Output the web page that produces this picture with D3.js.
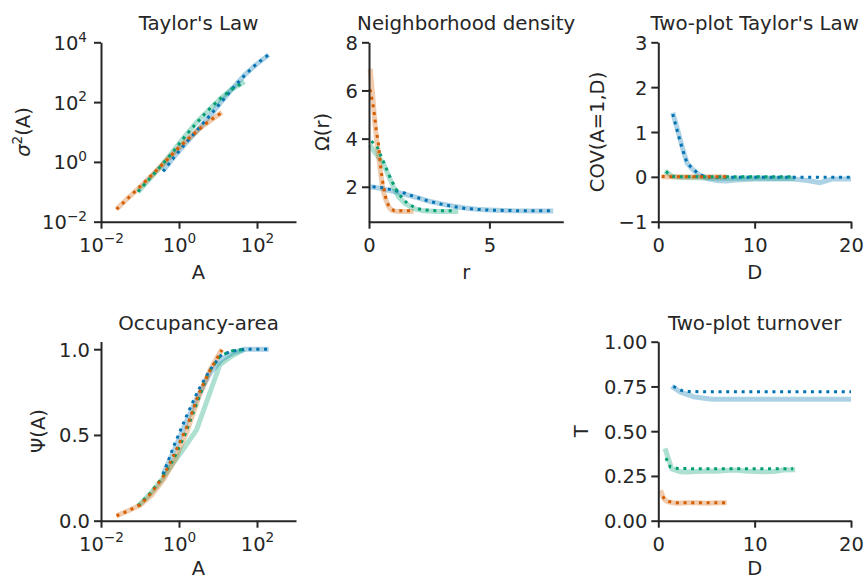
<!DOCTYPE html>
<html>
<head>
<meta charset="utf-8">
<script src="https://cdn.jsdelivr.net/npm/d3@7"></script>
<style>
body { margin: 0; background: #fff; }
text { font-family: "DejaVu Sans", sans-serif; fill: #262626; }
</style>
</head>
<body>
<script>
// ---- data ----
// colours: blue, green, orange series
var blue = '#0173b2', green = '#029e73', orange = '#d55e00';

// Taylor's Law / Occupancy-area share the area grid
var areaBlue   = [0.39, 0.78, 1.56, 3.1, 6.25, 12.5, 25, 50, 100, 200];
var areaGreen  = [0.089, 0.178, 0.355, 0.708, 1.41, 2.82, 5.62, 11.2, 22.4, 47.9];
var areaOrange = [0.025, 0.05, 0.1, 0.2, 0.4, 0.8, 1.6, 3.2, 6.3, 12.6];

var varBlue      = [0.5, 1.6, 4.5, 12, 35, 107, 316, 850, 1900, 3800];
var varBlueFit   = [0.48, 1.55, 4.6, 12.5, 36, 105, 310, 830, 1950, 3900];
var varGreen     = [0.1, 0.27, 0.74, 2.3, 7.2, 21, 52, 125, 270, 480];
var varGreenFit  = [0.1, 0.28, 0.76, 2.2, 7.0, 20, 54, 128, 265, 470];
var varOrange    = [0.026, 0.063, 0.145, 0.35, 0.89, 2.24, 5.5, 12.3, 24, 46];
var varOrangeFit = [0.026, 0.062, 0.15, 0.36, 0.9, 2.3, 5.4, 12, 24.5, 45];

var occBlue      = [0.27, 0.42, 0.58, 0.73, 0.86, 0.94, 0.98, 1.0, 1.0, 1.0];
var occBlueFit   = [0.27, 0.45, 0.61, 0.76, 0.88, 0.97, 0.99, 1.0, 1.0, 1.0];
var occGreen     = [0.086, 0.155, 0.237, 0.335, 0.43, 0.53, 0.72, 0.91, 0.96, 1.0];
var occGreenFit  = [0.086, 0.157, 0.245, 0.355, 0.5, 0.68, 0.86, 0.96, 0.99, 1.0];
var occOrange    = [0.028, 0.058, 0.09, 0.15, 0.24, 0.36, 0.52, 0.72, 0.88, 1.0];
var occOrangeFit = [0.028, 0.058, 0.092, 0.165, 0.26, 0.4, 0.55, 0.74, 0.88, 0.995];

// Neighborhood density
var rBlue       = [0.05, 0.5, 1.0, 1.5, 2.0, 2.5, 3.0, 3.5, 4.0, 4.5, 5.0, 6.0, 7.0, 7.65];
var omBlue      = [2.0, 1.93, 1.81, 1.69, 1.55, 1.4, 1.29, 1.19, 1.12, 1.07, 1.04, 1.0, 0.99, 0.99];
var rBlueFit    = [0.15, 0.5, 1.0, 1.5, 2.0, 2.5, 3.0, 3.5, 4.0, 4.5, 5.0, 6.0, 7.0, 7.65];
var omBlueFit   = [2.0, 1.97, 1.87, 1.73, 1.55, 1.4, 1.28, 1.18, 1.1, 1.06, 1.03, 1.01, 1.0, 1.0];
var rGreen      = [0.04, 0.18, 0.39, 0.6, 0.8, 1.01, 1.22, 1.5, 1.84, 2.26, 2.88, 3.71];
var omGreen     = [3.73, 3.52, 3.24, 2.97, 2.49, 2.0, 1.59, 1.31, 1.1, 1.0, 0.97, 0.97];
var rGreenFit   = [0.1, 0.35, 0.6, 0.85, 1.1, 1.35, 1.6, 1.85, 2.1, 2.5, 3.0, 3.5];
var omGreenFit  = [3.9, 3.63, 3.04, 2.45, 1.93, 1.57, 1.3, 1.17, 1.07, 1.02, 1.0, 1.0];
var rOrange     = [0.05, 0.15, 0.25, 0.35, 0.45, 0.55, 0.65, 0.8, 0.95, 1.2, 1.5, 1.85];
var omOrange    = [6.9, 5.8, 4.6, 3.65, 2.85, 2.05, 1.6, 1.2, 1.02, 0.97, 0.97, 0.97];
var rOrangeFit  = [0.04, 0.1, 0.2, 0.3, 0.4, 0.5, 0.6, 0.7, 0.8, 0.9, 1.05, 1.4, 1.8];
var omOrangeFit = [6.05, 5.75, 5.2, 4.37, 3.72, 2.68, 2.02, 1.53, 1.25, 1.11, 1.0, 1.0, 1.0];

// Two-plot Taylor's Law
var dBlue       = [1.5, 2.0, 2.5, 3.0, 3.5, 4.0, 4.5, 5.0, 6.0, 7.0, 8.0, 10, 12, 14, 15.5, 16.8, 18, 20];
var covBlue     = [1.43, 1.05, 0.65, 0.3, 0.18, 0.08, 0.02, -0.03, -0.08, -0.09, -0.07, -0.05, -0.05, -0.05, -0.08, -0.13, -0.05, -0.05];
var dBlueFit    = [1.5, 2.0, 2.5, 3.0, 3.5, 4.0, 4.5, 5.0, 6, 8, 10, 12, 14, 16, 18, 20];
var covBlueFit  = [1.4, 1.0, 0.62, 0.3, 0.2, 0.1, 0.03, 0.0, -0.01, -0.01, -0.01, -0.01, -0.01, -0.01, -0.01, -0.01];
var dGreen      = [0.7, 1.0, 1.5, 2, 3, 4, 6, 8, 10, 12, 14.2];
var covGreen    = [0.13, 0.08, 0.0, -0.01, -0.02, -0.02, -0.03, -0.03, -0.02, -0.03, -0.03];
var dGreenFit   = [0.8, 1.1, 1.5, 2, 3, 4, 6, 8, 10, 12, 14];
var covGreenFit = [0.12, 0.06, 0.01, 0, 0, 0, 0, 0, 0, 0, 0];
var dOrange     = [0.35, 1, 2, 3, 4, 5, 6, 7.1];
var covOrange   = [0, 0, 0, 0, 0, 0, 0, 0];
var covOrangeFit = [0.01, 0, 0, 0, 0, 0, 0, 0];

// Two-plot turnover
var dBlueT       = [1.39, 2.25, 3.63, 5.36, 6, 7, 8, 9, 10, 11, 12, 13, 14, 15, 16, 17, 18, 20];
var tBlue        = [0.75, 0.72, 0.693, 0.68, 0.678, 0.678, 0.678, 0.678, 0.678, 0.678, 0.678, 0.678, 0.678, 0.678, 0.678, 0.678, 0.678, 0.678];
var dBlueTFit    = [1.56, 2.4, 3, 5, 8, 11, 14, 17, 20];
var tBlueFit     = [0.75, 0.728, 0.722, 0.72, 0.72, 0.72, 0.72, 0.72, 0.72];
var dGreenT      = [0.7, 1.39, 2.25, 3, 4, 5, 6, 7, 8, 9, 10, 11, 12, 13, 14.2];
var tGreen       = [0.404, 0.29, 0.274, 0.272, 0.275, 0.278, 0.276, 0.28, 0.283, 0.278, 0.275, 0.273, 0.275, 0.283, 0.285];
var dGreenTFit   = [0.8, 1.25, 2, 4, 6, 8, 10, 12, 14];
var tGreenFit    = [0.35, 0.3, 0.292, 0.29, 0.29, 0.29, 0.29, 0.29, 0.29];
var dOrangeT     = [0.25, 0.5, 0.7, 1.0, 1.5, 2, 3, 4, 5, 6, 7.1];
var tOrange      = [0.17, 0.13, 0.115, 0.105, 0.1, 0.097, 0.1, 0.1, 0.098, 0.1, 0.1];
var dOrangeTFit  = [0.45, 0.86, 1.5, 2, 3, 4, 5, 6, 7];
var tOrangeFit   = [0.135, 0.11, 0.102, 0.1, 0.1, 0.1, 0.1, 0.1, 0.1];

var logTicks = [1e-2, 1, 1e2];
var logTicksY = [1e-2, 1, 1e2, 1e4];

// ---- layout ----
var width = 864, height = 580;
var col1 = [101, 296], col2 = [369, 563.3], col3 = [658.3, 851];
var row1 = [221.7, 42.3], row2 = [520.7, 341.5];
var tickFont = 19.5, labelFont = 19.5, titleFont = 19.8;

var svg = d3.select('body').append('svg')
    .attr('width', width)
    .attr('height', height);

function drawLine(g, x, y, xs, ys, color, dotted) {
    var pts = xs.map(function(d, i) { return [d, ys[i]]; });
    g.append('path')
        .datum(pts)
        .attr('fill', 'none')
        .attr('stroke', color)
        .attr('stroke-width', dotted ? 3 : 5)
        .attr('stroke-opacity', dotted ? 1 : 0.32)
        .attr('stroke-dasharray', dotted ? '3,4.7' : null)
        .attr('stroke-linejoin', 'round')
        .attr('d', d3.line().x(d => x(d[0])).y(d => y(d[1])));
}

// write 10^k as text with a superscript
function powLabel(sel) {
    sel.each(function(d) {
        var t = d3.select(this).text('10');
        var e = Math.round(Math.log10(d));
        t.append('tspan')
            .attr('font-size', '0.7em')
            .attr('dy', '-0.6em')
            .text(String(e).replace('-', '\u2212'));
    });
}

function numLabel(fmt) {
    return function(d) { return fmt(d).replace('-', '\u2212'); };
}

function drawAxes(g, x, y, o) {
    var xr = x.range(), yr = y.range();

    var gx = g.append('g')
        .attr('transform', 'translate(0,' + yr[0] + ')')
        .call(d3.axisBottom(x).tickValues(o.xTicks).tickSize(7).tickSizeOuter(0)
            .tickFormat(o.xFormat || null));
    var gy = g.append('g')
        .attr('transform', 'translate(' + xr[0] + ',0)')
        .call(d3.axisLeft(y).tickValues(o.yTicks).tickSize(7).tickSizeOuter(0)
            .tickFormat(o.yFormat || null));

    [gx, gy].forEach(function(a) {
        a.select('.domain').attr('stroke', '#262626').attr('stroke-width', 2);
        a.selectAll('.tick line').attr('stroke', '#262626').attr('stroke-width', 2);
        a.selectAll('.tick text')
            .attr('font-family', 'DejaVu Sans')
            .attr('font-size', tickFont)
            .attr('fill', '#262626');
    });

    gx.selectAll('.tick text').attr('y', 30).attr('dy', 0);
    gy.selectAll('.tick text').attr('x', o.yLog ? -14 : -11).attr('dy', '0.36em');

    if (o.xLog) powLabel(gx.selectAll('.tick text'));
    if (o.yLog) powLabel(gy.selectAll('.tick text'));

    var cx = (xr[0] + xr[1]) / 2, cy = (yr[0] + yr[1]) / 2;

    g.append('text')
        .attr('x', cx).attr('y', yr[1] - 12)
        .attr('text-anchor', 'middle')
        .attr('font-size', titleFont)
        .text(o.title);

    g.append('text')
        .attr('x', cx).attr('y', Math.min(yr[0] + 57, 575))
        .attr('text-anchor', 'middle')
        .attr('font-size', labelFont)
        .text(o.xlabel);

    var yl = g.append('text')
        .attr('transform', 'translate(' + o.ylabelX + ',' + cy + ') rotate(-90)')
        .attr('text-anchor', 'middle')
        .attr('font-size', labelFont);
    o.ylabel(yl);
}

// ---- Taylor's Law ----
var g1 = svg.append('g');
var x1 = d3.scaleLog().domain([1e-2, 1e3]).range(col1);
var y1 = d3.scaleLog().domain([1e-2, 1e4]).range(row1);
drawLine(g1, x1, y1, areaBlue, varBlue, blue, false);
drawLine(g1, x1, y1, areaGreen, varGreen, green, false);
drawLine(g1, x1, y1, areaOrange, varOrange, orange, false);
drawLine(g1, x1, y1, areaBlue, varBlueFit, blue, true);
drawLine(g1, x1, y1, areaGreen, varGreenFit, green, true);
drawLine(g1, x1, y1, areaOrange, varOrangeFit, orange, true);
drawAxes(g1, x1, y1, {
    xTicks: logTicks, yTicks: logTicksY, xLog: true, yLog: true,
    title: "Taylor's Law", xlabel: 'A', ylabelX: 30,
    ylabel: function(t) {
        t.append('tspan').attr('font-style', 'italic').text('\u03c3');
        t.append('tspan').attr('font-size', '0.7em').attr('dy', '-0.6em').text('2');
        t.append('tspan').attr('dy', '0.42em').text('(A)');
    }
});

// ---- Neighborhood density ----
var g2 = svg.append('g');
var x2 = d3.scaleLinear().domain([0, 8.07]).range(col2);
var y2 = d3.scaleLinear().domain([0.55, 8]).range(row1);
drawLine(g2, x2, y2, rBlue, omBlue, blue, false);
drawLine(g2, x2, y2, rGreen, omGreen, green, false);
drawLine(g2, x2, y2, rOrange, omOrange, orange, false);
drawLine(g2, x2, y2, rBlueFit, omBlueFit, blue, true);
drawLine(g2, x2, y2, rGreenFit, omGreenFit, green, true);
drawLine(g2, x2, y2, rOrangeFit, omOrangeFit, orange, true);
drawAxes(g2, x2, y2, {
    xTicks: [0, 5], yTicks: [2, 4, 6, 8], xFormat: d3.format('d'), yFormat: d3.format('d'),
    title: 'Neighborhood density', xlabel: 'r', ylabelX: 329,
    ylabel: function(t) { t.text('\u03a9(r)'); }
});

// ---- Two-plot Taylor's Law ----
var g3 = svg.append('g');
var x3 = d3.scaleLinear().domain([0, 20]).range(col3);
var y3 = d3.scaleLinear().domain([-1, 3]).range(row1);
drawLine(g3, x3, y3, dBlue, covBlue, blue, false);
drawLine(g3, x3, y3, dGreen, covGreen, green, false);
drawLine(g3, x3, y3, dOrange, covOrange, orange, false);
drawLine(g3, x3, y3, dBlueFit, covBlueFit, blue, true);
drawLine(g3, x3, y3, dGreenFit, covGreenFit, green, true);
drawLine(g3, x3, y3, dOrange, covOrangeFit, orange, true);
drawAxes(g3, x3, y3, {
    xTicks: [0, 10, 20], yTicks: [-1, 0, 1, 2, 3], xFormat: d3.format('d'),
    yFormat: numLabel(d3.format('d')),
    title: "Two-plot Taylor's Law", xlabel: 'D', ylabelX: 604,
    ylabel: function(t) { t.text('COV(A=1,D)'); }
});

// ---- Occupancy-area ----
var g4 = svg.append('g');
var x4 = d3.scaleLog().domain([1e-2, 1e3]).range(col1);
var y4 = d3.scaleLinear().domain([0, 1.045]).range(row2);
drawLine(g4, x4, y4, areaBlue, occBlue, blue, false);
drawLine(g4, x4, y4, areaGreen, occGreen, green, false);
drawLine(g4, x4, y4, areaOrange, occOrange, orange, false);
drawLine(g4, x4, y4, areaBlue, occBlueFit, blue, true);
drawLine(g4, x4, y4, areaGreen, occGreenFit, green, true);
drawLine(g4, x4, y4, areaOrange, occOrangeFit, orange, true);
drawAxes(g4, x4, y4, {
    xTicks: logTicks, yTicks: [0, 0.5, 1], xLog: true, yFormat: d3.format('.1f'),
    title: 'Occupancy-area', xlabel: 'A', ylabelX: 45,
    ylabel: function(t) { t.text('\u03a8(A)'); }
});

// ---- Two-plot turnover ----
var g5 = svg.append('g');
var x5 = d3.scaleLinear().domain([0, 20]).range(col3);
var y5 = d3.scaleLinear().domain([0, 1]).range([520.7, 341.7]);
drawLine(g5, x5, y5, dBlueT, tBlue, blue, false);
drawLine(g5, x5, y5, dGreenT, tGreen, green, false);
drawLine(g5, x5, y5, dOrangeT, tOrange, orange, false);
drawLine(g5, x5, y5, dBlueTFit, tBlueFit, blue, true);
drawLine(g5, x5, y5, dGreenTFit, tGreenFit, green, true);
drawLine(g5, x5, y5, dOrangeTFit, tOrangeFit, orange, true);
drawAxes(g5, x5, y5, {
    xTicks: [0, 10, 20], yTicks: [0, 0.25, 0.5, 0.75, 1], xFormat: d3.format('d'),
    yFormat: d3.format('.2f'),
    title: 'Two-plot turnover', xlabel: 'D', ylabelX: 588,
    ylabel: function(t) { t.text('T'); }
});
</script>
</body>
</html>
